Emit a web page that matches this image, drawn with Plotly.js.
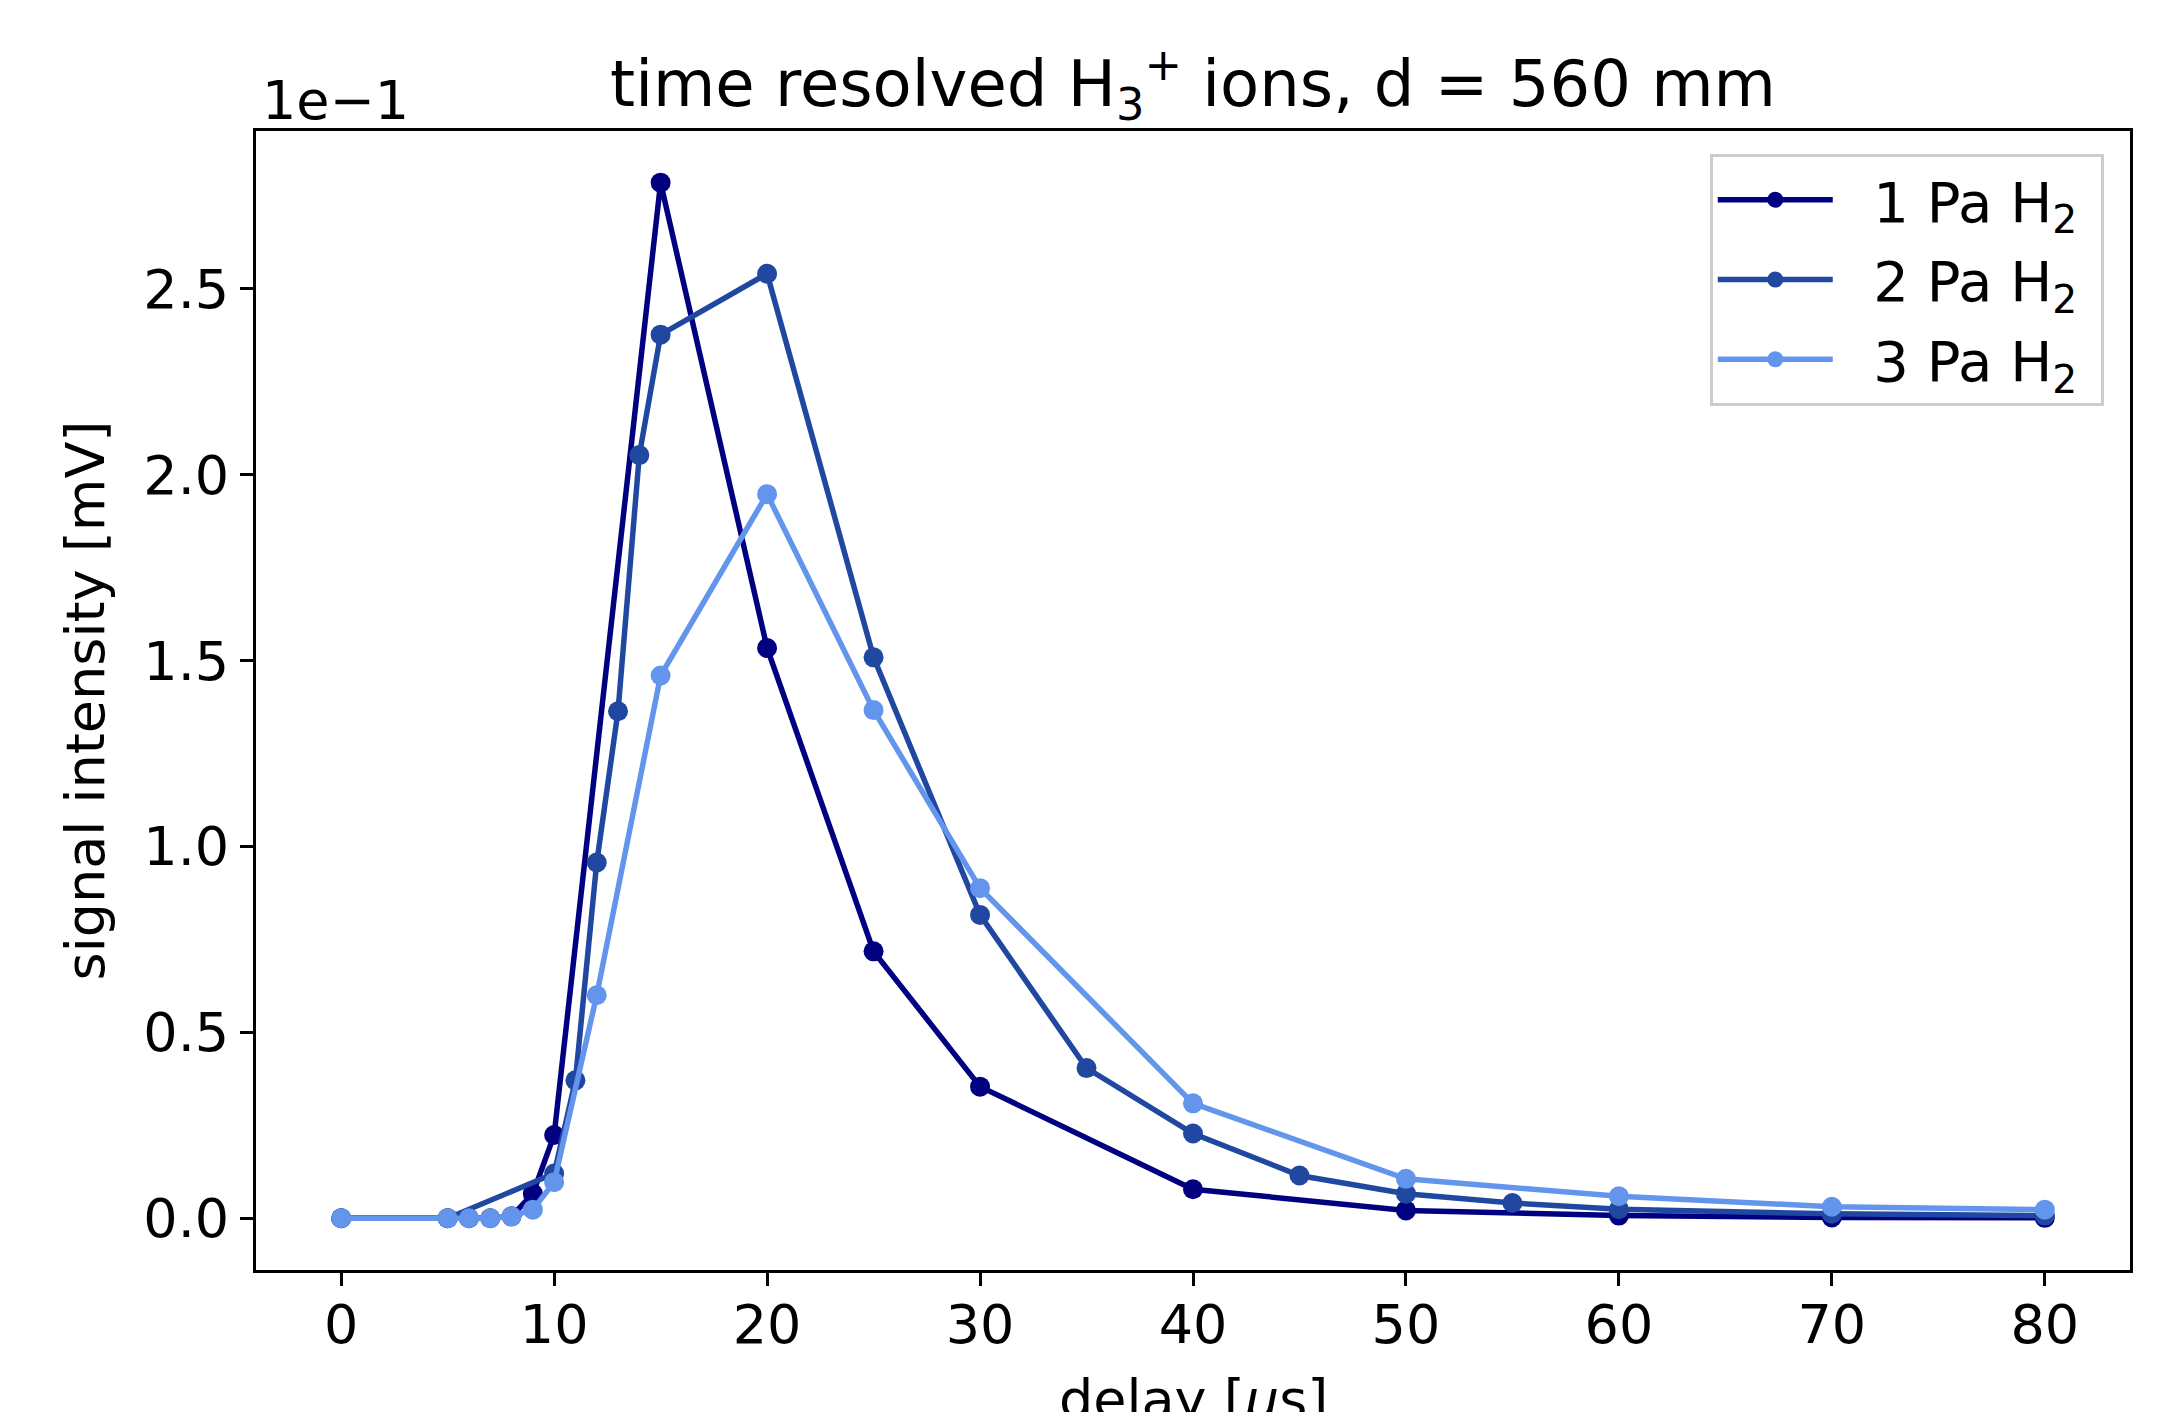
<!DOCTYPE html>
<html>
<head>
<meta charset="utf-8">
<script src="https://cdn.plot.ly/plotly-3.0.1.min.js"></script>
<style>html,body{margin:0;padding:0;background:#fff}#chart{width:2169px;height:1412px}</style>
</head>
<body>
<div id="chart"></div>
<script>
const x1Pa = [0, 5, 6, 7, 8, 9, 10, 15, 20, 25, 30, 40, 50, 60, 70, 80];
const y1Pa = [0, 0, 0, 0, 0.005, 0.066, 0.224, 2.786, 1.534, 0.718, 0.354, 0.078, 0.021, 0.007, 0.002, 0.001];

const x2Pa = [0, 5, 10, 11, 12, 13, 14, 15, 20, 25, 30, 35, 40, 45, 50, 55, 60, 70, 80];
const y2Pa = [0, 0, 0.12, 0.371, 0.957, 1.364, 2.053, 2.377, 2.541, 1.509, 0.816, 0.404, 0.228, 0.115, 0.066, 0.041, 0.024, 0.012, 0.007];

const x3Pa = [0, 5, 6, 7, 8, 9, 10, 12, 15, 20, 25, 30, 40, 50, 60, 70, 80];
const y3Pa = [0, 0, 0, 0, 0.005, 0.023, 0.097, 0.60, 1.460, 1.948, 1.367, 0.888, 0.309, 0.106, 0.059, 0.031, 0.023];

const seriesNames = ['1 Pa H<sub>2</sub>', '2 Pa H<sub>2</sub>', '3 Pa H<sub>2</sub>'];
const seriesColors = ['#000080', '#2148A0', '#6495ED'];
const xTicks = [0, 10, 20, 30, 40, 50, 60, 70, 80];
const yTicks = [0, 0.5, 1.0, 1.5, 2.0, 2.5];

const FONT = 'DejaVu Sans, Verdana, sans-serif';
const xs = [x1Pa, x2Pa, x3Pa];
const ys = [y1Pa, y2Pa, y3Pa];

const traces = xs.map((xv, i) => ({
  x: xv, y: ys[i], type: 'scatter', mode: 'lines+markers',
  name: '\u00A0\u00A0' + seriesNames[i] + '\u00A0',
  legendgroup: 'g' + i,
  line: {color: seriesColors[i], width: 5.5},
  marker: {color: seriesColors[i], size: 20}
}));

const axisCommon = {
  showline: true, linecolor: '#000', linewidth: 3, mirror: true,
  ticks: 'outside', ticklen: 13, tickwidth: 3, tickcolor: '#000',
  showgrid: false, zeroline: false,
  tickfont: {family: FONT, size: 54, color: '#000'}
};

const layout = {
  width: 2169, height: 1412,
  paper_bgcolor: '#fff', plot_bgcolor: '#fff',
  margin: {l: 256, r: 39, t: 131, b: 142},
  title: {
    text: 'time resolved H<sub>3</sub><sup>+</sup> ions, d = 560 mm',
    font: {family: FONT, size: 64, color: '#000'},
    xref: 'paper', x: 0.5, xanchor: 'center',
    yref: 'container', y: 1 - 84 / 1412, yanchor: 'middle'
  },
  xaxis: Object.assign({}, axisCommon, {
    range: [-4, 84], tickvals: xTicks, ticktext: xTicks.map(String),
    ticklabelstandoff: -8
  }),
  yaxis: Object.assign({}, axisCommon, {
    range: [-0.1393, 2.925], tickvals: yTicks, ticktext: yTicks.map(v => v.toFixed(1)),
    title: {text: 'signal intensity [mV]', font: {family: FONT, size: 54, color: '#000'}, standoff: 22}
  }),
  legend: {
    x: 0.986, xanchor: 'right', y: 0.98, yanchor: 'top',
    bgcolor: 'rgba(255,255,255,0.8)', bordercolor: '#cccccc', borderwidth: 3,
    font: {family: FONT, size: 56, color: '#000'},
    itemwidth: 115, tracegroupgap: 4
  },
  showlegend: true,
  annotations: [{
    text: '1e−1', xref: 'paper', yref: 'paper', x: 0.002, y: 0.997,
    xanchor: 'left', yanchor: 'bottom', showarrow: false,
    font: {family: FONT, size: 54, color: '#000'}
  }, {
    // x-axis title, placed low as in the reference (partly below the page edge)
    text: 'delay [<i>μ</i>s]', xref: 'paper', yref: 'paper', x: 0.5, y: -0.084,
    xanchor: 'center', yanchor: 'top', showarrow: false,
    font: {family: FONT, size: 54, color: '#000'}
  }]
};

Plotly.newPlot('chart', traces, layout, {displayModeBar: false, staticPlot: true});
</script>
</body>
</html>
